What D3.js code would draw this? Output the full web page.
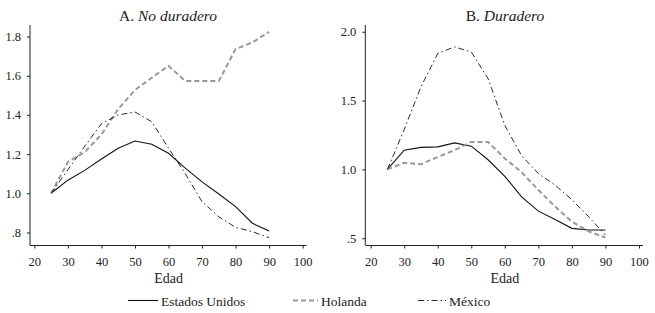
<!DOCTYPE html>
<html>
<head>
<meta charset="utf-8">
<script src="https://cdn.jsdelivr.net/npm/d3@7"></script>
<style>
  body { margin: 0; background: #fff; }
  svg text { font-family: "Liberation Serif", "DejaVu Serif", serif !important; fill: #222; }
</style>
</head>
<body>
<script>
// edades
const ages = [25, 30, 35, 40, 45, 50, 55, 60, 65, 70, 75, 80, 85, 90];

// A. No duradero
const usA  = [1.0, 1.067, 1.117, 1.175, 1.23, 1.267, 1.25, 1.204, 1.128, 1.058, 0.996, 0.932, 0.847, 0.807];
const nlA  = [1.0, 1.16, 1.21, 1.30, 1.43, 1.527, 1.59, 1.65, 1.573, 1.573, 1.573, 1.736, 1.77, 1.824];
const mxA  = [1.0, 1.12, 1.24, 1.355, 1.40, 1.415, 1.365, 1.23, 1.10, 0.957, 0.88, 0.826, 0.804, 0.773];

// B. Duradero
const usB  = [1.0, 1.14, 1.16, 1.164, 1.193, 1.169, 1.07, 0.95, 0.80, 0.697, 0.637, 0.572, 0.56, 0.56];
const nlB  = [1.0, 1.048, 1.038, 1.09, 1.14, 1.20, 1.20, 1.08, 0.98, 0.85, 0.73, 0.62, 0.55, 0.505];
const mxB  = [1.0, 1.29, 1.60, 1.842, 1.89, 1.853, 1.66, 1.32, 1.10, 0.97, 0.886, 0.78, 0.656, 0.523];

const xTicks = [20, 30, 40, 50, 60, 70, 80, 90, 100];
const yTicksA = [0.8, 1.0, 1.2, 1.4, 1.6, 1.8];
const yTicksB = [0.5, 1.0, 1.5, 2.0];

const W = 655, H = 313;

const svg = d3.select("body").append("svg")
  .attr("width", W)
  .attr("height", H);

const fmt = d => {
  const s = d3.format(".1f")(d);
  return s.startsWith("0") ? s.slice(1) : s;
};

const styles = [
  { name: "Estados Unidos", color: "#111", width: 1.1, dash: null },
  { name: "Holanda", color: "#999", width: 2, dash: "5,3" },
  { name: "México", color: "#111", width: 0.9, dash: "6,3,1.5,3" }
];

function panel(opt) {
  const x = d3.scaleLinear().domain(opt.xDomain).range(opt.xRange);
  const y = d3.scaleLinear().domain(opt.yDomain).range([245, 25]);

  const g = svg.append("g");

  // ejes
  g.append("line")
    .attr("x1", opt.xRange[0]).attr("x2", opt.xRange[0])
    .attr("y1", 25).attr("y2", 245)
    .attr("stroke", "#222").attr("stroke-width", 1);
  g.append("line")
    .attr("x1", opt.xRange[0]).attr("x2", opt.xRange[1])
    .attr("y1", 245.5).attr("y2", 245.5)
    .attr("stroke", "#222").attr("stroke-width", 1);

  const yAxis = g.append("g")
    .attr("transform", `translate(${opt.xRange[0]},0)`)
    .call(d3.axisLeft(y).tickValues(opt.yTicks).tickFormat(fmt).tickSize(3).tickPadding(6));
  yAxis.select(".domain").remove();

  const xAxis = g.append("g")
    .attr("transform", "translate(0,245.5)")
    .call(d3.axisBottom(x).tickValues(xTicks).tickSize(3).tickPadding(9));
  xAxis.select(".domain").remove();

  g.selectAll(".tick text")
    .attr("font-size", 12.5);
  g.selectAll(".tick line").attr("stroke", "#222");

  // titulo
  const t = g.append("text")
    .attr("x", opt.titleX).attr("y", 20.5)
    .attr("text-anchor", "middle")
    .attr("font-size", 15.5);
  t.append("tspan").text(opt.prefix);
  t.append("tspan").attr("font-style", "italic").text(opt.title);

  g.append("text")
    .attr("x", x(60)).attr("y", 282.5)
    .attr("text-anchor", "middle")
    .attr("font-size", 14)
    .text("Edad");

  const line = d3.line()
    .x((d, i) => x(ages[i]))
    .y(d => y(d));

  opt.series.forEach((s, k) => {
    const st = styles[k];
    g.append("path")
      .datum(s)
      .attr("d", line)
      .attr("fill", "none")
      .attr("stroke", st.color)
      .attr("stroke-width", st.width)
      .attr("stroke-dasharray", st.dash);
  });
}

panel({
  xDomain: [18.7, 101.2], xRange: [30, 306.7],
  yDomain: [0.736, 1.859], yTicks: yTicksA,
  titleX: 168, prefix: "A. ", title: "No duradero",
  series: [usA, nlA, mxA]
});

panel({
  xDomain: [18.4, 101.2], xRange: [365.3, 643],
  yDomain: [0.451, 2.049], yTicks: yTicksB,
  titleX: 505, prefix: "B. ", title: "Duradero",
  series: [usB, nlB, mxB]
});

// leyenda
const legendLine = [[128, 158], [293, 318], [418, 446]];
const legend = svg.append("g");
styles.forEach((st, i) => {
  const [a, b] = legendLine[i];
  legend.append("line")
    .attr("x1", a).attr("x2", b)
    .attr("y1", 300.5).attr("y2", 300.5)
    .attr("stroke", st.color)
    .attr("stroke-width", st.width)
    .attr("stroke-dasharray", st.dash);
  legend.append("text")
    .attr("x", b + 3).attr("y", 305.5)
    .attr("font-size", 13.5)
    .text(st.name);
});
</script>
</body>
</html>
